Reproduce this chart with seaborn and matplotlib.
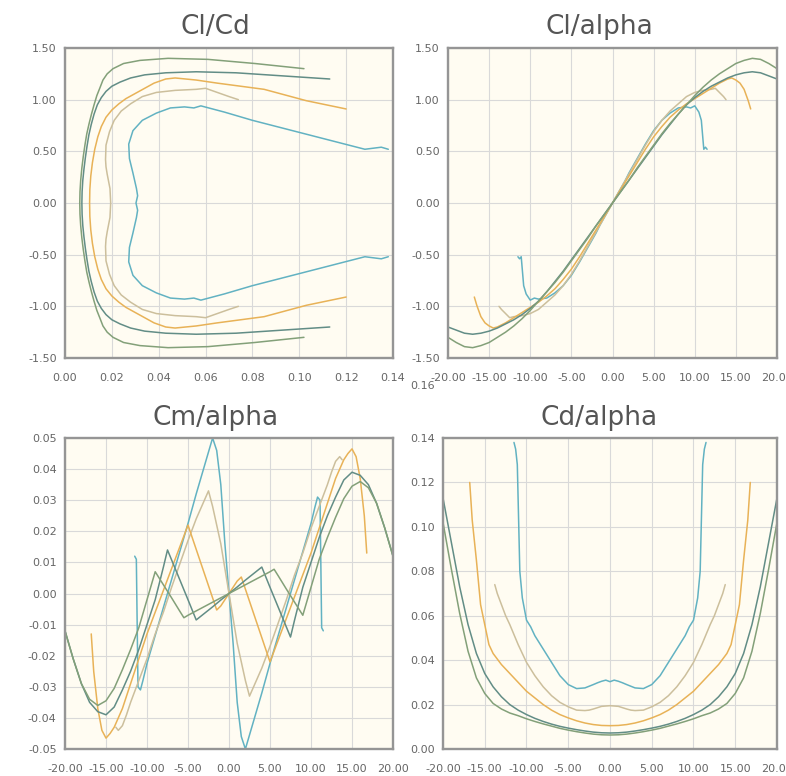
import numpy as np
import pandas as pd
import matplotlib
matplotlib.use("Agg")
import matplotlib.pyplot as plt
from matplotlib.ticker import FormatStrFormatter
import seaborn as sns

sns.set_theme(style="white")
plt.rcParams["font.family"] = ["DejaVu Sans"]

# ---------------- data ----------------
series_names = ["s1", "s2", "s3", "s4", "s5"]

alpha_1 = [-11.5, -11.3, -11.1, -10.8, -10.5, -10, -9.5, -9, -8, -7, -6, -5, -4, -3, -2, -1.5, -1, -0.5,
           0, 0.5, 1, 1.5, 2, 3, 4, 5, 6, 7, 8, 9, 9.5, 10, 10.5, 10.8, 11.1, 11.3, 11.5]
cl_1 = [-0.52, -0.54, -0.52, -0.80, -0.88, -0.94, -0.92, -0.93, -0.92, -0.87, -0.80, -0.70, -0.57, -0.43,
        -0.29, -0.21, -0.14, -0.07, 0.0, 0.07, 0.14, 0.21, 0.29, 0.43, 0.57, 0.70, 0.80, 0.87, 0.92, 0.93,
        0.92, 0.94, 0.88, 0.80, 0.52, 0.54, 0.52]
cd_1 = [0.138, 0.135, 0.128, 0.080, 0.068, 0.058, 0.055, 0.051, 0.045, 0.039, 0.033, 0.029, 0.0272, 0.0275,
        0.029, 0.0298, 0.0305, 0.031, 0.0303, 0.031, 0.0305, 0.0298, 0.029, 0.0275, 0.0272, 0.029, 0.033,
        0.039, 0.045, 0.051, 0.055, 0.058, 0.068, 0.080, 0.128, 0.135, 0.138]
cm_1 = [0.012, 0.011, -0.030, -0.031, -0.028, -0.0225, -0.018, -0.0135, -0.0045, 0.0045, 0.0135, 0.0225,
        0.032, 0.041, 0.050, 0.046, 0.035, 0.016, 0.0, -0.016, -0.035, -0.046, -0.050, -0.041, -0.032,
        -0.0225, -0.0135, -0.0045, 0.0045, 0.0135, 0.018, 0.0225, 0.028, 0.031, 0.030, -0.011, -0.012]

alpha_2 = [-13.8, -13.5, -13, -12.5, -12, -11, -10, -9, -8, -7, -6, -5, -4, -3, -2.5, -2, -1, 0, 1, 2, 2.5,
           3, 4, 5, 6, 7, 8, 9, 10, 11, 12, 12.5, 13, 13.5, 13.8]
cl_2 = [-1.00, -1.03, -1.07, -1.11, -1.10, -1.09, -1.07, -1.03, -0.96, -0.89, -0.80, -0.69, -0.56, -0.42,
        -0.35, -0.28, -0.14, 0.0, 0.14, 0.28, 0.35, 0.42, 0.56, 0.69, 0.80, 0.89, 0.96, 1.03, 1.07, 1.09,
        1.10, 1.11, 1.07, 1.03, 1.00]
cd_2 = [0.074, 0.070, 0.065, 0.060, 0.056, 0.047, 0.039, 0.033, 0.028, 0.024, 0.021, 0.019, 0.0175, 0.0173,
        0.0175, 0.018, 0.0192, 0.0195, 0.0192, 0.018, 0.0175, 0.0173, 0.0175, 0.019, 0.021, 0.024, 0.028,
        0.033, 0.039, 0.047, 0.056, 0.060, 0.065, 0.070, 0.074]
cm_2 = [-0.043, -0.044, -0.0425, -0.039, -0.035, -0.028, -0.021, -0.013, -0.006, 0.002, 0.0095, 0.017,
        0.024, 0.030, 0.033, 0.028, 0.016, 0.0, -0.016, -0.028, -0.033, -0.030, -0.024, -0.017, -0.0095,
        -0.002, 0.006, 0.013, 0.021, 0.028, 0.035, 0.039, 0.0425, 0.044, 0.043]

alpha_3 = [-16.8, -16.5, -16, -15.5, -15, -14.5, -14, -13, -12, -11, -10, -9, -8, -7, -6, -5, -4, -3, -2,
           -1.5, -1, 0, 1, 1.5, 2, 3, 4, 5, 6, 7, 8, 9, 10, 11, 12, 13, 14, 14.5, 15, 15.5, 16, 16.5, 16.8]
cl_3 = [-0.91, -0.99, -1.10, -1.16, -1.19, -1.21, -1.20, -1.16, -1.11, -1.06, -1.01, -0.96, -0.90, -0.83,
        -0.74, -0.64, -0.52, -0.39, -0.26, -0.195, -0.13, 0.0, 0.13, 0.195, 0.26, 0.39, 0.52, 0.64, 0.74,
        0.83, 0.90, 0.96, 1.01, 1.06, 1.11, 1.16, 1.20, 1.21, 1.19, 1.16, 1.10, 0.99, 0.91]
cd_3 = [0.120, 0.103, 0.085, 0.065, 0.056, 0.047, 0.043, 0.038, 0.034, 0.030, 0.026, 0.023, 0.020, 0.0175,
        0.0155, 0.014, 0.0127, 0.0117, 0.011, 0.0108, 0.0106, 0.0105, 0.0106, 0.0108, 0.011, 0.0117,
        0.0127, 0.014, 0.0155, 0.0175, 0.020, 0.023, 0.026, 0.030, 0.034, 0.038, 0.043, 0.047, 0.056,
        0.065, 0.085, 0.103, 0.120]
cm_3 = [-0.013, -0.025, -0.037, -0.044, -0.0465, -0.045, -0.043, -0.037, -0.029, -0.021, -0.013, -0.006,
        0.001, 0.008, 0.015, 0.022, 0.0142, 0.0064, -0.0014, -0.0053, -0.004, 0.0, 0.004, 0.0053, 0.0014,
        -0.0064, -0.0142, -0.022, -0.015, -0.008, -0.001, 0.006, 0.013, 0.021, 0.029, 0.037, 0.043, 0.045,
        0.0465, 0.044, 0.037, 0.025, 0.013]

alpha_4 = [-20, -19, -18, -17, -16, -15, -14, -13, -12, -11, -10, -9, -8, -7.5, -7, -6, -5, -4, -3, -2, -1,
           0, 1, 2, 3, 4, 5, 6, 7, 7.5, 8, 9, 10, 11, 12, 13, 14, 15, 16, 17, 18, 19, 20]
cl_4 = [-1.20, -1.23, -1.26, -1.27, -1.26, -1.24, -1.21, -1.17, -1.13, -1.08, -1.02, -0.95, -0.86, -0.81,
        -0.76, -0.66, -0.55, -0.44, -0.33, -0.22, -0.11, 0.0, 0.11, 0.22, 0.33, 0.44, 0.55, 0.66, 0.76,
        0.81, 0.86, 0.95, 1.02, 1.08, 1.13, 1.17, 1.21, 1.24, 1.26, 1.27, 1.26, 1.23, 1.20]
cd_4 = [0.113, 0.093, 0.073, 0.056, 0.043, 0.034, 0.028, 0.0235, 0.020, 0.0175, 0.0155, 0.0138, 0.0124,
        0.0118, 0.0112, 0.0102, 0.0094, 0.0087, 0.0081, 0.0076, 0.0073, 0.0072, 0.0073, 0.0076, 0.0081,
        0.0087, 0.0094, 0.0102, 0.0112, 0.0118, 0.0124, 0.0138, 0.0155, 0.0175, 0.020, 0.0235, 0.028,
        0.034, 0.043, 0.056, 0.073, 0.093, 0.113]
cm_4 = [-0.012, -0.021, -0.029, -0.035, -0.038, -0.039, -0.0365, -0.031, -0.025, -0.018, -0.010, -0.002,
        0.0085, 0.014, 0.0108, 0.0044, -0.002, -0.0085, -0.0064, -0.0043, -0.0021, 0.0, 0.0021, 0.0043,
        0.0064, 0.0085, 0.002, -0.0044, -0.0108, -0.014, -0.0085, 0.002, 0.010, 0.018, 0.025, 0.031,
        0.0365, 0.039, 0.038, 0.035, 0.029, 0.021, 0.012]

alpha_5 = [-20, -19, -18, -17, -16, -15, -14, -13, -12, -11, -10, -9, -8, -7, -6, -5.5, -5, -4, -3, -2, -1,
           0, 1, 2, 3, 4, 5, 5.5, 6, 7, 8, 9, 10, 11, 12, 13, 14, 15, 16, 17, 18, 19, 20]
cl_5 = [-1.30, -1.35, -1.39, -1.40, -1.38, -1.35, -1.30, -1.25, -1.19, -1.12, -1.04, -0.95, -0.86, -0.77,
        -0.67, -0.615, -0.56, -0.45, -0.34, -0.22, -0.11, 0.0, 0.11, 0.22, 0.34, 0.45, 0.56, 0.615, 0.67,
        0.77, 0.86, 0.95, 1.04, 1.12, 1.19, 1.25, 1.30, 1.35, 1.38, 1.40, 1.39, 1.35, 1.30]
cd_5 = [0.102, 0.081, 0.061, 0.044, 0.032, 0.025, 0.0205, 0.018, 0.0162, 0.015, 0.0136, 0.0124, 0.0113,
        0.0103, 0.0093, 0.0089, 0.0085, 0.0078, 0.0072, 0.0067, 0.0064, 0.0063, 0.0064, 0.0067, 0.0072,
        0.0078, 0.0085, 0.0089, 0.0093, 0.0103, 0.0113, 0.0124, 0.0136, 0.015, 0.0162, 0.018, 0.0205,
        0.025, 0.032, 0.044, 0.061, 0.081, 0.102]
cm_5 = [-0.012, -0.021, -0.029, -0.034, -0.036, -0.0345, -0.0305, -0.0245, -0.018, -0.011, -0.002, 0.007,
        0.0028, -0.0014, -0.0057, -0.0078, -0.007, -0.0056, -0.0042, -0.0028, -0.0014, 0.0, 0.0014,
        0.0028, 0.0042, 0.0056, 0.007, 0.0078, 0.0057, 0.0014, -0.0028, -0.007, 0.002, 0.011, 0.018,
        0.0245, 0.0305, 0.0345, 0.036, 0.034, 0.029, 0.021, 0.012]

series_colors = {"s1": "#62b2c2", "s2": "#ccbf9c", "s3": "#e8b257", "s4": "#628d86", "s5": "#83a079"}

cd_ticks = [0.00, 0.02, 0.04, 0.06, 0.08, 0.10, 0.12, 0.14]
cl_ticks = [-1.50, -1.00, -0.50, 0.00, 0.50, 1.00, 1.50]
alpha_ticks = [-20, -15, -10, -5, 0, 5, 10, 15, 20]
cm_ticks = [-0.05, -0.04, -0.03, -0.02, -0.01, 0.00, 0.01, 0.02, 0.03, 0.04, 0.05]
cd_alpha_ticks = [0.00, 0.02, 0.04, 0.06, 0.08, 0.10, 0.12, 0.14]

# ---------------- table ----------------
frames = []
for name, a, cl, cd, cm in zip(series_names,
                               [alpha_1, alpha_2, alpha_3, alpha_4, alpha_5],
                               [cl_1, cl_2, cl_3, cl_4, cl_5],
                               [cd_1, cd_2, cd_3, cd_4, cd_5],
                               [cm_1, cm_2, cm_3, cm_4, cm_5]):
    frames.append(pd.DataFrame({"series": name, "alpha": a, "cl": cl, "cd": cd, "cm": cm}))
df = pd.concat(frames, ignore_index=True)

# ---------------- figure ----------------
W, H = 786, 776
fig = plt.figure(figsize=(W / 100, H / 100), dpi=100)
fig.patch.set_facecolor("white")


def add_ax(l, t, r, b):
    return fig.add_axes([l / W, 1 - b / H, (r - l) / W, (b - t) / H])


panels = [
    dict(rect=(65, 48, 393, 358), x="cd", y="cl", xlim=(0, 0.14), ylim=(-1.5, 1.5),
         xt=cd_ticks, yt=cl_ticks, title="Cl/Cd", tx=215, ty=27),
    dict(rect=(448, 48, 777, 358), x="alpha", y="cl", xlim=(-20, 20), ylim=(-1.5, 1.5),
         xt=alpha_ticks, yt=cl_ticks, title="Cl/alpha", tx=599, ty=27),
    dict(rect=(65, 438, 393, 749), x="alpha", y="cm", xlim=(-20, 20), ylim=(-0.05, 0.05),
         xt=alpha_ticks, yt=cm_ticks, title="Cm/alpha", tx=216, ty=418),
    dict(rect=(443, 438, 777, 749), x="alpha", y="cd", xlim=(-20, 20), ylim=(0, 0.14),
         xt=alpha_ticks, yt=cd_alpha_ticks, title="Cd/alpha", tx=599, ty=418),
]

for p in panels:
    ax = add_ax(*p["rect"])
    ax.set_facecolor("#fffcf2")
    sns.lineplot(data=df, x=p["x"], y=p["y"], hue="series", palette=series_colors,
                 sort=False, estimator=None, legend=False, linewidth=1.1, ax=ax)
    ax.set_xlim(*p["xlim"])
    ax.set_ylim(*p["ylim"])
    ax.set_xticks(p["xt"])
    ax.set_yticks(p["yt"])
    ax.xaxis.set_major_formatter(FormatStrFormatter("%.2f"))
    ax.yaxis.set_major_formatter(FormatStrFormatter("%.2f"))
    ax.set_xlabel("")
    ax.set_ylabel("")
    ax.grid(True, color="#d9d9d9", linewidth=0.8)
    ax.set_axisbelow(True)
    for s in ax.spines.values():
        s.set_color("#959595")
        s.set_linewidth(1.7)
    ax.tick_params(axis="both", which="major", labelsize=8, labelcolor="#666666",
                   color="#9a9a9a", length=3, width=1, direction="out")
    ax.tick_params(axis="x", pad=8)
    ax.tick_params(axis="y", pad=3)
    fig.text(p["tx"] / W, 1 - p["ty"] / H, p["title"], ha="center", va="center",
             fontsize=19, color="#555555")

# overflow label of the Cl/Cd x axis
fig.text(423 / W, 1 - 386 / H, "0.16", ha="center", va="center", fontsize=8, color="#666666")

fig.savefig("out.png", dpi=100)
